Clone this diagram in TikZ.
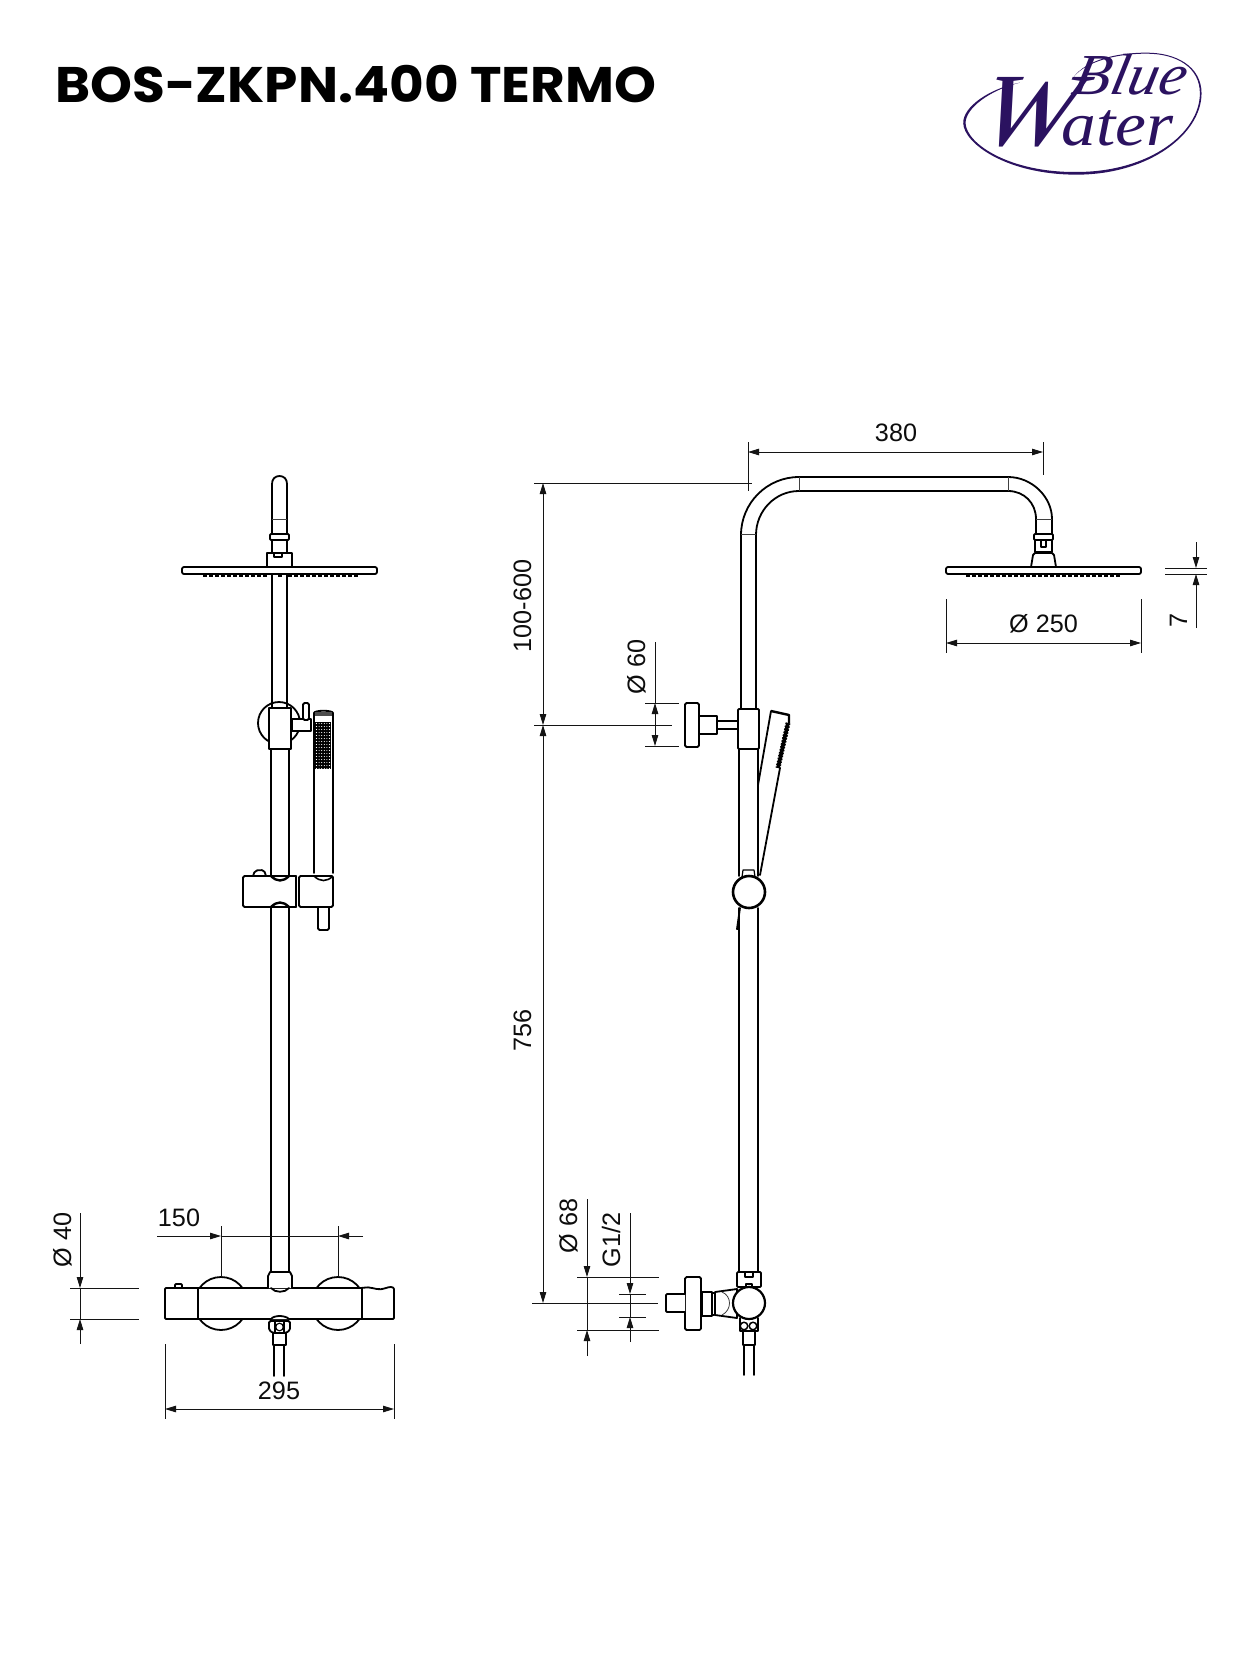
\documentclass[tikz,border=0pt]{standalone}
\usepackage{fontspec}
\setmainfont{Liberation Sans}
\newfontfamily\titlefont{Poppins}
\newfontfamily\logofont{Liberation Serif}
\usetikzlibrary{arrows.meta}
\definecolor{logoblue}{HTML}{2B1260}
\tikzset{
  obj/.style={line width=1.8pt,line join=round,line cap=round,black},
  objw/.style={obj,fill=white},
  thinl/.style={line width=0.8pt,black!75},
  dim/.style={line width=0.9pt,black!92},
  dimtip/.tip={Triangle[length=11pt,width=6.5pt]},
  dimarr/.style={dim,-{dimtip}},
  dimarrb/.style={dim,{dimtip}-{dimtip}},
  lab/.style={font=\fontsize{25.2}{28}\selectfont,inner sep=0pt,anchor=base,text=black!95},
  vlab/.style={lab,rotate=90},
  noz/.style={line width=3.4pt,black},
}
\begin{document}
\begin{tikzpicture}[x=1pt,y=-1pt]
\useasboundingbox (0,0) rectangle (1250,1667);
\fill[white] (0,0) rectangle (1250,1667);

% Title
\node[font=\titlefont\bfseries\fontsize{50}{56}\selectfont,inner sep=0pt,anchor=base west,xscale=1.066] (title) at (55,103) {BOS-ZKPN.400 TERMO};

% Logo
\begin{scope}[x=0.3333pt,y=-0.3333pt,shift={(2850,120)}]
\fill[logoblue] (210,128) .. controls (120,145) and (38,200) .. (40,250)
  .. controls (42,310) and (170,404) .. (380,404)
  .. controls (600,404) and (755,280) .. (755,160)
  .. controls (755,80) and (680,38) .. (590,38)
  .. controls (500,38) and (410,60) .. (372,110)
  .. controls (410,64) and (500,41) .. (590,41)
  .. controls (680,41) and (750,82) .. (750,160)
  .. controls (750,278) and (600,396) .. (380,396)
  .. controls (180,398) and (50,312) .. (47,250)
  .. controls (46,205) and (120,150) .. (210,128) -- cycle;
\node[logoblue,font=\logofont\itshape\fontsize{104}{104}\selectfont,inner sep=0pt,anchor=base west,xscale=1.12,xslant=.2,transform shape] (logoW) at (72,318) {W};
\node[logoblue,font=\logofont\itshape\fontsize{62}{62}\selectfont,inner sep=0pt,anchor=base west,xscale=1.12,transform shape] (logoater) at (335,318) {ater};
\node[logoblue,font=\logofont\itshape\fontsize{58}{58}\selectfont,inner sep=0pt,anchor=base west,xscale=1.06,xslant=.2,transform shape] (logoblue) at (362,165) {Blue};
\end{scope}

%%%%%%%%%%%% LEFT VIEW %%%%%%%%%%%%
% arm
\draw[obj] (272,534) -- (272,484) .. controls (272,479) and (275,476) .. (279.5,476) .. controls (284,476) and (287,479) .. (287,484) -- (287,534);
\draw[thinl] (272,519) -- (287,519);
\draw[objw,rounded corners=1pt] (270,534) rectangle (289,540);
\draw[obj] (272,540) -- (272,552) (287,540) -- (287,552);
\draw[objw] (267,567) -- (267,553) -- (292,553) -- (292,567);
\draw[obj,line width=1.2pt] (274,553) -- (274,557) -- (282,557) -- (282,553);
% head
\draw[objw,rounded corners=2pt] (182,567) rectangle (377,574);
\foreach \x in {205,211,...,266,280,290,296,...,356} \draw[noz] (\x,574.5) -- (\x,577);
% pole upper
\draw[obj] (272,574) -- (272,708) (287,574) -- (287,708);
% bracket
\draw[obj] (279,723) circle[radius=21];
\draw[objw] (292,719) -- (311,719) -- (311,731) -- (292,731) .. controls (288,727) and (288,723) .. (292,719);
\draw[objw,rounded corners=1.5pt] (303,703) rectangle (309,720);
\draw[objw] (269,708) -- (291,708) -- (291,749) -- (269,749) -- cycle;
\draw[obj,fill=white] (292,719) -- (292,731);
% pole middle
\draw[obj] (271,749) -- (271,876) (289,749) -- (289,876);
% hand shower
\draw[objw] (314,873) -- (314,713) .. controls (314,710) and (333,710) .. (333,713) -- (333,873);
\fill[black!70] (315,712) rectangle (332,716);
\fill[black] (315,722) rectangle (331,769);
\foreach \i in {0,...,5} \foreach \j in {0,...,15} \fill[white] (316.5+2.6*\i,723.5+3*\j) circle[radius=.55];
% slider
\draw[obj,fill=white,rounded corners=2pt] (253,876) -- (255,870.5) -- (264,870) -- (266,876);
\draw[objw,rounded corners=1.5pt] (296,876) -- (243,876) -- (243,907) -- (296,907);
\draw[objw,rounded corners=1.5pt] (299,876) -- (333,876) -- (333,907) -- (299,907) -- cycle;
\draw[obj] (296,876) -- (296,907);
\draw[line width=2.4pt] (271,876) .. controls (277,882) and (283,882) .. (289,876);
\draw[line width=2.4pt] (271,907) .. controls (277,901) and (283,901) .. (289,907);
\draw[line width=1.6pt] (314,876) .. controls (320,882) and (327,882) .. (333,876);
\draw[obj,rounded corners=1.5pt] (318,907) -- (318,930) -- (329,930) -- (329,907);
% pole lower
\draw[obj] (271,907) -- (271,1272) (289,907) -- (289,1272);
% thermostat
\draw[obj] (221,1303.5) circle[radius=26.5];
\draw[obj] (338,1303.5) circle[radius=26.5];
\draw[objw,rounded corners=1pt] (175,1288) -- (175,1284) -- (182,1284) -- (182,1288);
\draw[objw,rounded corners=1pt] (165,1288) -- (362,1288) .. controls (370,1286) and (376,1290) .. (382,1289) .. controls (387,1288) and (390,1286) .. (394,1288) -- (394,1319) -- (165,1319) -- cycle;
\draw[line width=2.2pt] (198,1288) -- (198,1319) (362,1288) -- (362,1319);
\draw[objw] (268,1288) -- (268,1276) -- (270,1272) -- (290,1272) -- (292,1276) -- (292,1288);
\draw[obj] (271,1288) .. controls (275,1293) and (285,1293) .. (289,1288);
\draw[objw] (271,1319) .. controls (274,1315) and (285,1315) .. (289,1319);
\draw[objw] (273,1332) rectangle (286,1345);
\draw[objw,rounded corners=1.5pt] (269,1321) -- (290,1321) -- (290,1330) -- (286,1333) -- (273,1333) -- (269,1330) -- cycle;
\draw[obj,line width=1.2pt] (275,1321) -- (275,1333) (284,1321) -- (284,1333);
\draw[obj,line width=1.2pt] (279.5,1327) circle[radius=3.8];
\draw[obj] (274,1345) -- (274,1376) (284,1345) -- (284,1376);

% LEFT DIMENSIONS
\draw[dim] (70,1288) -- (139,1288) (70,1319) -- (139,1319);
\draw[dimarr] (80,1213) -- (80,1288);
\draw[dimarr] (80,1344) -- (80,1319);
\draw[dim] (80,1288) -- (80,1319);
\node[vlab] (d40) at (71,1240) {Ø 40};
\draw[dim] (221,1226) -- (221,1277) (338,1226) -- (338,1277);
\draw[dim] (221,1236) -- (338,1236);
\draw[dimarr] (157,1236) -- (221,1236);
\draw[dimarr] (363,1236) -- (338,1236);
\node[lab] (d150) at (179,1226) {150};
\draw[dim] (165,1344) -- (165,1419) (394,1344) -- (394,1419);
\draw[dimarrb] (165,1409) -- (394,1409);
\node[lab] (d295) at (279,1399) {295};

%%%%%%%%%%%% RIGHT VIEW %%%%%%%%%%%%
\draw[obj] (741,709) -- (741,535) .. controls (741,503) and (767,477) .. (799,477) -- (1008,477) .. controls (1032,477) and (1052,497) .. (1052,519) -- (1052,534);
\draw[obj] (756,709) -- (756,535) .. controls (756,511) and (775,491) .. (799,491) -- (1008,491) .. controls (1024,491) and (1036,503) .. (1036,519) -- (1036,534);
\draw[thinl] (741,534) -- (756,534) (799,477) -- (799,491) (1008,477) -- (1008,491) (1036,519) -- (1052,519);
\draw[objw,rounded corners=1pt] (1034,534) rectangle (1053,540);
\draw[obj] (1035,540) -- (1035,552) (1052,540) -- (1052,552) (1035,552) -- (1052,552);
\draw[obj,line width=1.2pt] (1041,540) -- (1041,547) -- (1046,547) -- (1046,540);
\draw[objw] (1031,567) -- (1033,555) -- (1035,553) -- (1052,553) -- (1054,555) -- (1056,567);
\draw[objw,rounded corners=2pt] (946,567) rectangle (1141,574);
\foreach \x in {968,974,...,1040,1046,1052,...,1118} \draw[noz] (\x,574.5) -- (\x,577);

% wall bracket
\draw[objw,rounded corners=1.5pt] (685,703) rectangle (699,747);
\draw[objw] (699,716) rectangle (717,734);
\draw[objw] (717,721) rectangle (738,729);
\draw[objw,rounded corners=1pt] (738,709) rectangle (759,749);
% pole
\draw[obj] (739,749) -- (739,876) (758,749) -- (758,876);
% hand shower
\draw[obj] (758,785) -- (771,711);
\draw[line width=2.4pt,line join=round] (771,711) -- (789,715) -- (789,723);
\draw[line width=3.6pt] (788,723) -- (778,768);
\draw[line width=5pt,dash pattern=on 1.6pt off 1.4pt] (788,723) -- (778,768);
\draw[obj] (780,768) -- (760,875);
% slider
\draw[obj,fill=white,line width=1.2pt] (742,877) -- (743,870) -- (754,870) -- (755,877);
\draw[objw,line width=2.6pt] (749,892) circle[radius=16];
\draw[obj] (740,908) -- (737,929) -- (739,929);
\draw[obj] (739,908) -- (739,1272) (758,908) -- (758,1272);
% valve
\draw[objw] (715,1292) -- (737,1289) -- (737,1318) -- (715,1315) -- cycle;
\draw[thinl] (722,1292) .. controls (732,1296) and (732,1310) .. (722,1315);
\draw[objw,rounded corners=1pt] (737,1272) rectangle (761,1287);
\draw[obj,line width=1.2pt] (745,1273) -- (745,1277) -- (753,1277) -- (753,1273);
\draw[objw,line width=1.2pt] (746,1287) -- (746,1284) -- (752,1284) -- (752,1287);
\draw[objw] (740,1318) -- (740,1331) -- (758,1331) -- (758,1318);
\draw[objw,line width=1.5pt] (744,1326) circle[radius=3.8];
\draw[objw,line width=1.5pt] (753,1326) circle[radius=3.8];
\draw[objw,line width=2.2pt] (749,1303) circle[radius=16];
\draw[obj] (743,1331) -- (743,1345) -- (755,1345) -- (755,1331);
\draw[obj] (744,1345) -- (744,1375) (754,1345) -- (754,1375);
\draw[objw] (702,1292) rectangle (712,1316);
\draw[obj,line width=1.2pt] (712,1293) -- (714.5,1293) -- (714.5,1315) -- (712,1315);
\draw[objw,rounded corners=1.5pt] (685,1277) rectangle (701,1330);
\draw[objw,rounded corners=1pt] (685,1294) -- (666,1294) -- (666,1312) -- (685,1312);

% RIGHT DIMENSIONS
\draw[dim] (748,442) -- (748,491) (1043,442) -- (1043,475);
\draw[dimarrb] (748,452) -- (1043,452);
\node[lab] (d380) at (896,441) {380};
\draw[dim] (534,483) -- (752,483);
\draw[dimarrb] (543,483) -- (543,725);
\node[vlab] (d100) at (531,606) {100-600};
\draw[dim] (534,725) -- (672,725);
\draw[dimarrb] (543,725) -- (543,1303);
\node[vlab] (d756) at (531,1030) {756};
\draw[dim] (532,1303) -- (658,1303);
% dia 60
\draw[dim] (645,703) -- (679,703) (645,746) -- (679,746);
\draw[dim] (655,642) -- (655,703);
\draw[dimarrb] (655,703) -- (655,746);
\node[vlab] (d60) at (645,667) {Ø 60};
% dia 68
\draw[dim] (577,1277) -- (659,1277) (577,1330) -- (659,1330);
\draw[dimarr] (587,1199) -- (587,1277);
\draw[dimarr] (587,1356) -- (587,1330);
\draw[dim] (587,1277) -- (587,1330);
\node[vlab] (d68) at (577,1226) {Ø 68};
% G1/2
\draw[dim] (619,1294) -- (646,1294) (619,1317) -- (646,1317);
\draw[dimarr] (630,1213) -- (630,1294);
\draw[dimarr] (630,1342) -- (630,1317);
\draw[dim] (630,1294) -- (630,1317);
\node[vlab] (dG) at (620,1240) {G1/2};
% dia 250
\draw[dim] (946,599) -- (946,653) (1141,599) -- (1141,653);
\draw[dimarrb] (946,643) -- (1141,643);
\node[lab] (d250) at (1043.5,632) {Ø 250};
% 7
\draw[dim] (1165,568) -- (1207,568) (1165,574) -- (1207,574);
\draw[dimarr] (1196,542) -- (1196,568);
\draw[dimarr] (1196,628) -- (1196,574);
\node[vlab] (d7) at (1187,620) {7};
\end{tikzpicture}
\end{document}
